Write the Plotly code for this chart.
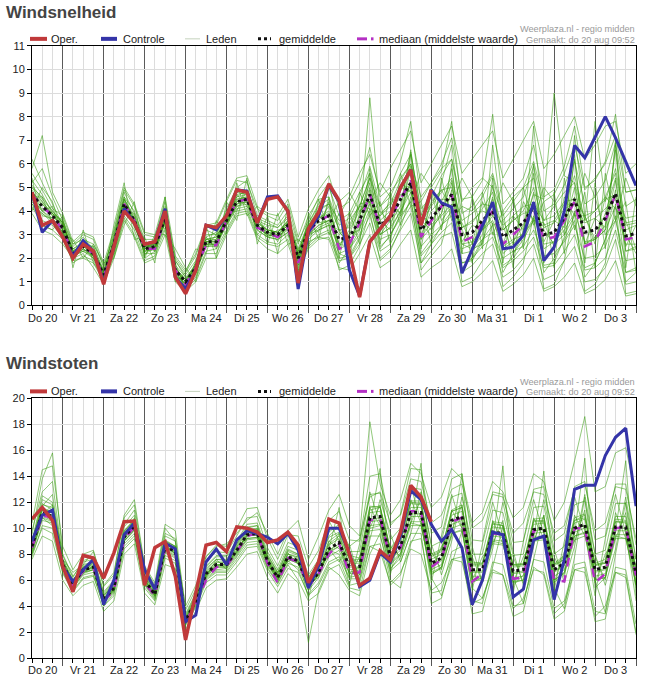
import pandas as pd
import plotly.graph_objects as go

# ---------------- data ----------------
times = pd.date_range("2020-08-20 06:00", periods=60, freq="6h")
day_labels = ["Do 20", "Vr 21", "Za 22", "Zo 23", "Ma 24", "Di 25", "Wo 26", "Do 27",
              "Vr 28", "Za 29", "Zo 30", "Ma 31", "Di 1", "Wo 2", "Do 3"]

snel_oper = [4.8,3.4,3.6,2.9,2.0,2.6,2.3,0.9,2.5,4.0, 3.5,2.6,2.7,4.0,1.2,0.5,1.5,3.4,3.3,3.8,
             4.9,4.8,3.5,4.5,4.6,4.0,0.95,3.25,3.95,5.15, 4.45,2.3,0.35,2.7,3.25,3.8,5.0,5.75,3.4,4.9] + [None]*20
snel_controle = [4.8,3.1,3.6,2.9,2.1,2.75,2.3,1.0,2.5,4.1, 3.5,2.6,2.7,4.1,1.2,0.7,1.5,3.4,3.2,3.8,
                 4.9,4.85,3.5,4.6,4.65,4.0,0.7,3.1,3.8,5.1, 4.4,1.5,0.4,2.7,3.25,3.8,5.0,5.75,3.4,4.9,
                 4.35,4.17,1.37,2.4,3.4,4.38,2.4,2.47,2.97,4.38, 1.9,2.47,4.0,6.78,6.26,7.13,8.0,7.1,6.07,5.08]
snel_gemiddelde = [4.7,4.2,3.8,3.3,2.2,2.5,2.2,1.3,2.6,4.3, 3.6,2.4,2.5,3.7,1.5,1.0,1.6,2.7,2.7,3.6,
                   4.4,4.5,3.4,3.1,3.0,3.4,2.0,3.2,3.6,3.8, 2.8,2.9,3.6,4.7,3.4,3.7,4.5,5.2,3.2,3.7,
                   4.2,4.7,3.0,3.1,3.6,4.0,2.9,3.2,3.5,4.2, 3.0,3.1,3.7,4.5,3.1,3.2,3.7,4.75,2.95,3.05]
snel_mediaan = [4.7,4.2,3.8,3.2,2.2,2.5,2.2,1.2,2.6,4.3, 3.6,2.4,2.4,3.7,1.5,0.9,1.6,2.55,2.55,3.6,
                4.4,4.5,3.3,3.1,2.9,3.3,1.8,3.1,3.6,3.8, 2.4,2.6,3.5,4.7,3.3,3.7,4.5,5.3,2.9,3.6,
                4.2,4.7,2.7,2.9,3.5,4.0,2.6,3.0,3.4,4.1, 2.8,2.9,3.6,4.4,2.5,2.7,3.6,4.7,2.8,2.9]
snel_leden = [
 [5.2,5.8,4.6,3.6,2.5,2.9,2.4,1.0,2.9,4.8,3.9,2.7,2.3, 4.2,1.8,0.6,1.9,3.2,3.0,4.1,5.0,5.3,3.8,3.6,3.4,4.0, 2.6,3.8,4.5,4.6,3.4,3.7,4.6,5.9,4.2,4.6,5.6,6.4,4.1, 4.6,5.5,6.2,3.9,4.2,4.8,5.6,4.0,4.6,5.0,6.1, 4.4,4.7,5.6,6.8,4.9,5.4,6.0,7.2,4.8,4.9],
 [4.3,3.6,3.4,2.9,1.8,2.1,1.9,1.1,2.2,3.8,3.2,2.0,2.3, 3.3,1.2,0.8,1.2,2.3,2.4,3.2,4.0,4.1,3.0,2.7,2.6,3.0, 1.6,2.6,3.0,3.2,2.2,2.4,3.0,4.1,2.8,3.0,3.7,4.4,2.5, 3.0,3.4,3.8,2.2,2.3,2.8,3.1,2.0,2.3,2.5,3.2, 2.1,2.2,2.7,3.4,2.0,2.1,2.5,3.6,1.9,2.0],
 [5.6,4.9,4.1,3.8,2.6,3.0,2.8,1.6,3.1,4.9,4.2,3.0,2.9, 4.4,2.0,1.4,2.1,3.3,3.4,4.4,5.3,5.2,4.1,3.8,3.6,4.3, 2.7,3.6,4.6,5.2,3.1,2.7,3.4,8.8,4.0,3.5,4.2,6.5,3.9, 3.4,3.9,5.8,2.6,2.4,3.0,5.1,2.2,2.6,3.1,5.6, 2.4,2.7,3.4,6.2,2.6,2.9,3.4,6.6,2.3,2.5],
 [3.9,3.2,3.0,2.6,2.0,2.2,1.6,0.9,2.0,3.6,2.9,1.8,2.0, 3.0,1.0,0.6,1.0,2.0,2.0,3.0,3.8,3.9,2.8,2.4,2.2,2.6, 1.4,2.4,2.8,2.9,1.9,2.0,2.6,3.5,2.0,2.4,3.2,3.9,1.8, 2.3,2.9,3.1,1.4,1.7,2.2,2.6,1.2,1.5,2.0,2.6, 1.1,1.3,1.9,2.5,1.0,1.1,1.6,2.8,0.9,1.0],
 [5.0,4.6,4.0,3.5,2.3,2.6,2.5,1.4,2.8,4.5,3.8,2.6,2.7, 3.9,1.6,1.1,1.8,2.9,3.1,3.9,4.7,4.8,3.6,3.4,3.3,3.7, 2.3,3.4,4.1,4.3,3.6,3.9,4.8,5.6,3.9,4.3,5.3,6.0,3.8, 5.0,5.7,7.8,4.2,4.0,4.6,5.5,3.6,4.1,4.6,5.9, 4.0,4.3,5.1,6.1,4.3,4.6,5.3,6.9,4.2,4.5],
 [4.5,4.0,3.6,3.1,2.1,2.3,2.0,1.2,2.4,4.0,3.4,2.2,2.2, 3.5,1.3,0.9,1.4,2.5,2.5,3.4,4.1,4.2,3.2,2.9,2.8,3.1, 1.8,2.9,3.3,3.5,2.4,2.6,3.3,4.3,3.0,3.3,4.0,4.8,2.8, 3.3,3.8,4.3,2.6,2.7,3.2,3.6,2.5,2.8,3.0,3.7, 2.6,2.7,3.2,3.9,2.7,2.8,3.2,4.2,2.6,2.6],
 [6.2,5.2,4.3,3.4,2.4,2.7,2.3,1.5,3.0,4.6,3.5,2.5,2.6, 3.9,1.7,1.2,1.7,2.8,2.9,3.7,4.6,4.9,3.3,3.2,3.1,3.6, 2.1,3.1,3.7,4.0,2.6,2.5,3.8,5.0,3.0,3.6,4.9,5.6,2.9, 3.5,4.4,5.3,2.4,2.6,3.5,4.5,2.4,2.7,3.4,4.7, 4.5,9.0,5.5,5.2,2.6,2.8,3.9,5.4,2.3,2.4],
 [4.1,3.9,3.5,3.0,2.1,2.4,2.0,1.2,2.3,4.1,3.4,2.3,2.4, 3.6,1.4,0.9,1.5,2.6,2.6,3.5,4.3,4.4,3.3,3.0,2.9,3.3, 1.9,3.0,3.4,3.6,2.5,3.2,4.0,4.4,3.1,3.9,4.7,4.9,3.0, 4.0,4.5,4.5,3.3,3.6,4.0,3.8,3.2,3.6,3.9,4.0, 3.3,3.5,4.1,4.3,3.5,3.7,4.1,4.5,3.4,3.5],
 [4.8,4.4,3.9,3.2,2.2,2.6,2.3,1.4,2.7,4.4,3.7,2.4,2.5, 3.8,1.5,1.0,1.6,2.7,2.8,3.7,4.5,4.6,3.5,3.2,3.1,3.5, 2.0,3.2,3.7,3.9,2.2,2.0,2.8,4.9,2.5,2.9,3.9,5.3,2.2, 2.8,3.3,4.9,1.8,1.9,2.7,4.1,1.7,2.0,2.6,4.4, 1.7,1.8,2.9,4.6,1.6,1.8,2.8,4.9,1.4,1.6],
 [4.6,4.3,3.9,3.4,2.3,2.5,2.2,1.3,2.6,4.2,3.7,2.5,2.5, 3.7,1.5,1.1,1.6,2.7,2.7,3.6,4.4,4.5,3.4,3.1,3.0,3.4, 2.1,3.3,3.5,3.6,3.0,3.4,4.3,4.4,3.8,4.2,5.1,5.0,3.7, 4.3,4.9,5.0,3.6,3.9,4.3,4.2,3.4,3.8,4.2,4.3, 3.6,3.8,4.4,4.5,3.8,4.0,4.5,4.7,3.7,3.8],
 [5.3,4.7,3.9,3.6,2.6,2.8,2.6,1.7,2.9,4.6,4.0,2.8,2.8, 4.1,1.9,1.3,1.9,3.0,3.0,4.0,4.8,4.7,3.7,3.5,3.3,3.8, 2.4,3.5,4.2,4.5,3.2,3.3,4.2,5.4,3.6,4.0,5.0,5.9,3.5, 4.2,4.8,5.4,3.3,3.5,4.1,4.8,3.2,3.6,4.0,5.0, 3.4,3.6,4.3,5.5,3.6,7.8,4.4,5.8,3.5,3.6],
 [4.2,3.4,3.2,2.8,1.9,2.0,1.8,1.0,2.1,3.7,3.0,1.9,2.1, 3.2,1.1,0.7,1.1,2.2,2.2,3.1,3.9,4.0,2.9,2.6,2.5,2.8, 1.5,2.5,2.9,3.1,2.0,2.1,2.9,3.8,2.3,2.6,3.5,4.2,2.1, 2.6,3.1,3.5,1.8,2.0,2.5,2.9,1.6,1.9,2.3,2.9, 1.6,1.7,2.3,3.0,1.5,1.6,2.0,3.2,1.4,1.5],
 [5.8,7.2,4.8,3.9,2.7,3.1,2.9,1.8,3.2,5.0,4.3,3.1,3.0, 4.6,2.1,1.5,2.2,3.4,3.5,4.5,5.4,5.5,4.2,3.9,3.8,4.5, 2.9,4.1,4.9,5.5,4.1,4.4,5.2,6.7,4.6,5.0,6.1,7.8,4.4, 5.2,6.0,7.1,4.5,4.6,5.3,8.1,4.3,4.8,5.4,6.8, 4.6,4.9,5.9,7.6,5.0,5.3,6.1,8.1,4.8,4.9],
 [4.4,3.8,3.7,3.2,2.0,2.4,2.1,1.1,2.5,4.1,3.5,2.3,2.4, 3.6,1.4,0.8,1.5,2.6,2.6,3.5,4.3,4.4,3.3,3.0,2.9,3.3, 1.7,2.8,3.2,3.4,1.5,1.7,2.5,4.0,1.9,2.3,3.3,4.6,1.5, 2.1,2.6,4.2,1.0,1.2,1.9,3.5,0.8,1.2,1.8,3.8, 0.7,0.9,1.9,4.0,0.6,0.9,1.8,4.3,0.5,0.6],
 [4.0,5.0,4.4,3.0,2.8,2.0,2.6,1.8,2.0,3.4,4.4,2.0,3.0, 3.0,2.4,1.6,1.0,3.4,2.0,4.4,3.6,5.4,2.6,3.8,2.2,4.2, 1.4,3.9,2.8,4.6,2.0,4.0,2.6,5.6,2.6,4.8,3.4,6.4,2.4, 4.8,3.2,6.0,2.2,4.6,2.4,5.4,1.8,4.6,2.4,6.0, 1.8,4.8,2.2,6.4,1.8,5.2,2.4,7.0,1.6,4.6],
 [5.4,3.4,3.2,3.8,1.6,3.2,1.8,1.2,3.4,5.2,2.8,2.9,1.8, 4.6,1.0,1.4,2.4,2.2,3.6,3.0,5.2,3.8,4.2,2.6,3.9,2.6, 2.8,2.4,4.5,3.0,3.9,1.8,4.8,3.8,4.4,2.6,5.6,4.2,4.4, 2.6,5.4,3.6,4.2,1.8,4.8,3.0,4.0,1.6,5.0,3.4, 4.4,1.6,5.4,3.2,4.8,1.6,5.6,3.6,4.4,1.4],
 [4.9,4.0,4.2,2.8,2.4,2.3,2.5,1.5,2.2,4.0,3.9,2.1,2.8, 3.4,1.9,1.2,1.3,2.9,2.4,3.9,4.0,4.9,3.0,3.4,2.7,3.6, 2.3,3.4,3.1,4.4,2.4,3.6,4.2,4.1,3.8,4.4,3.9,5.8,2.8, 4.4,4.9,4.0,3.5,2.6,4.4,3.4,3.6,2.6,4.4,3.6, 3.5,2.5,4.6,3.8,3.8,2.6,4.6,4.1,3.6,2.4],
 [4.6,4.6,3.5,3.6,2.0,2.7,2.0,1.3,2.8,4.5,3.3,2.6,2.3, 4.0,1.3,0.9,1.8,2.5,3.0,3.4,4.7,4.2,3.7,2.9,3.2,3.2, 1.9,2.9,4.0,3.4,3.2,2.4,3.9,5.2,3.0,3.3,5.0,4.8,3.6, 3.2,3.9,5.2,2.7,3.4,3.2,4.6,2.6,3.8,3.2,4.8, 2.7,3.6,3.3,5.0,2.6,3.7,3.3,5.3,2.5,3.4],
 [4.4,4.1,3.9,3.5,2.3,2.6,2.3,1.4,2.6,4.2,3.6,2.5,2.6, 3.8,1.6,1.0,1.7,2.8,2.8,3.7,4.5,4.6,3.5,3.2,3.1,3.5, 2.2,3.5,4.3,5.0,3.8,4.6,5.6,6.4,4.8,5.8,6.6,7.4,5.2, 6.0,6.8,7.6,5.6,6.2,6.8,7.4,5.4,6.2,7.0,7.8, 5.8,6.4,7.2,8.0,6.2,6.8,7.6,7.8,5.6,6.0],
 [4.5,4.0,3.7,3.1,2.1,2.4,2.1,1.2,2.5,4.2,3.5,2.3,2.4, 3.5,1.4,0.9,1.5,2.6,2.6,3.4,4.2,4.3,3.2,2.9,2.8,3.1, 1.7,2.7,2.9,2.8,1.6,1.5,2.2,3.0,1.6,1.9,2.6,3.2,1.2, 1.6,1.9,2.4,0.8,1.0,1.4,1.9,0.6,0.9,1.3,2.0, 0.6,0.8,1.2,1.8,0.5,0.7,1.1,1.9,0.4,0.5],
 [5.0,4.4,3.8,3.4,2.2,2.5,2.3,1.3,2.7,4.3,3.6,2.4,2.5, 3.7,1.5,1.0,1.6,2.7,2.7,3.6,4.4,4.5,3.4,3.1,3.0,3.4, 2.0,3.3,3.6,4.2,2.6,3.0,3.2,5.8,3.6,3.2,4.0,6.6,3.4, 3.0,5.2,6.8,3.2,2.4,2.6,6.8,3.4,2.2,3.0,7.6, 3.2,2.6,3.0,7.2,3.8,2.8,3.2,6.8,3.0,2.2],
 [4.8,4.3,3.8,3.3,2.2,2.5,2.2,1.3,2.6,4.3,3.6,2.4,2.5, 3.7,1.5,1.0,1.6,2.7,2.7,3.6,4.4,4.5,3.4,3.1,3.0,3.4, 2.0,3.0,3.4,3.6,4.4,4.8,4.0,4.4,5.2,4.6,3.8,4.4,5.6, 5.0,3.6,4.2,5.4,4.6,3.2,3.8,5.2,4.4,3.0,3.6, 5.0,4.4,3.0,3.8,5.6,4.6,3.0,3.6,5.4,4.2],
 [4.3,3.9,3.6,3.0,2.1,2.3,2.1,1.2,2.4,4.1,3.4,2.2,2.4, 3.6,1.3,0.8,1.4,2.5,2.6,3.5,4.2,4.4,3.3,3.0,2.9,3.2, 1.8,3.0,3.2,3.4,1.8,2.4,3.2,4.4,2.4,3.0,3.8,5.2,1.8, 2.6,3.4,4.0,1.6,2.0,2.8,3.4,1.4,2.2,2.8,3.6, 1.4,2.0,2.8,3.6,1.2,1.8,2.8,3.8,1.0,1.4],
 [5.1,4.5,4.0,3.5,2.4,2.6,2.3,1.4,2.7,4.5,3.7,2.5,2.6, 3.9,1.6,1.1,1.7,2.8,2.9,3.8,4.6,4.7,3.6,3.2,3.1,3.6, 2.2,3.4,4.0,4.3,3.2,3.0,4.2,5.4,4.2,4.8,5.4,6.0,4.6, 5.2,5.8,6.2,4.4,5.0,5.4,5.0,3.8,4.4,5.0,5.4, 3.6,4.2,4.8,5.2,3.6,4.0,4.6,5.6,3.2,3.4],
]

stoot_oper = [10.7,11.6,10.6,7.05,5.1,7.9,7.7,6.15,8.1,10.5, 10.55,5.6,8.5,8.97,6.3,1.4,5.0,8.7,8.9,8.2,
              10.1,10.0,9.7,8.9,9.1,9.7,8.7,5.8,7.4,10.7, 10.4,8.0,5.6,6.15,8.26,7.56,9.7,13.3,12.4,10.5] + [None]*20
stoot_controle = [9.0,11.0,11.4,7.0,5.9,6.8,7.6,4.1,6.0,9.5, 10.4,6.8,5.3,8.85,8.4,2.8,3.3,7.4,8.4,7.2,
                  9.1,9.8,9.6,9.3,8.8,9.6,8.3,5.4,7.1,10.0, 10.0,8.1,5.5,6.0,8.1,7.4,9.4,12.9,12.2,10.3,
                  9.0,9.9,8.5,4.1,6.0,9.7,9.5,4.7,5.3,9.1, 9.4,4.5,7.6,13.0,13.3,13.3,15.6,17.0,17.7,11.7]
stoot_gemiddelde = [8.6,11.2,10.9,7.2,5.7,6.8,7.0,4.5,5.4,9.3, 10.2,6.0,4.9,8.6,8.2,2.9,4.4,6.5,7.2,7.2,
                    8.3,9.5,9.6,7.5,6.2,7.8,7.5,5.6,6.6,8.4, 8.9,7.05,7.05,10.8,10.9,7.8,8.6,11.2,11.2,7.3,
                    7.7,10.6,10.9,6.8,6.8,9.7,9.6,6.7,6.8,9.9, 10.0,6.8,7.3,10.0,10.3,6.8,7.0,10.1,10.1,6.5]
stoot_mediaan = [8.5,11.0,10.8,7.1,5.6,6.7,7.0,4.4,5.2,9.2, 10.1,5.8,4.8,8.5,8.1,2.8,4.2,6.0,7.0,7.1,
                 8.2,9.4,9.6,7.3,5.8,7.7,7.4,5.5,6.5,8.0, 8.8,6.5,6.6,10.6,10.8,7.6,8.5,11.3,11.3,7.0,
                 7.6,10.5,10.8,5.9,6.5,9.6,9.5,6.1,6.2,9.8, 9.5,6.0,5.9,10.0,10.0,5.8,6.5,10.0,10.1,6.3]
stoot_leden = [
 [9.5,13.8,15.8,7.9,6.2,7.5,7.8,5.1,6.0,10.3,11.4,6.7,5.5, 9.6,9.2,3.4,5.0,7.4,8.2,8.1,9.4,10.8,10.9,8.5,7.1,8.9, 8.6,6.4,7.6,9.7,10.3,8.2,8.2,12.6,12.7,9.1,10.0,13.1,13.0, 8.6,9.0,12.4,12.7,8.0,8.0,11.4,11.2,7.9,8.0,11.6, 11.7,8.0,8.6,11.8,12.1,8.0,8.3,11.9,11.9,7.6],
 [7.8,10.2,10.0,6.5,5.1,6.1,6.3,4.0,4.8,8.4,9.2,5.4,4.4, 7.7,7.3,2.5,3.9,5.8,6.4,6.4,7.4,8.5,8.6,6.7,5.5,6.9, 6.6,4.9,5.8,7.4,7.8,6.1,6.1,9.4,9.4,6.7,7.4,9.6,9.6, 4.2,4.6,7.6,7.8,3.4,3.6,6.6,6.4,3.2,3.6,7.0, 6.4,3.0,3.6,6.8,7.0,2.8,3.0,6.6,6.4,2.0],
 [9.0,12.5,12.0,8.0,6.3,7.4,7.6,5.0,5.9,10.1,11.0,6.6,5.4, 9.4,9.0,3.3,4.9,7.1,7.9,7.9,9.0,10.3,10.4,8.2,6.8,8.6, 8.3,6.2,7.3,9.3,9.7,7.9,7.7,11.7,11.6,8.5,9.4,12.0,11.9, 8.0,8.4,11.3,11.6,7.4,7.3,10.4,10.2,7.2,7.2,10.5, 10.5,7.2,7.6,10.6,10.8,7.2,7.3,10.5,10.4,6.7],
 [8.2,10.6,10.4,6.8,5.4,6.4,6.6,4.2,5.1,8.8,9.6,5.7,4.6, 8.1,7.7,2.7,4.1,6.1,6.7,6.7,7.8,8.9,9.0,7.0,5.8,7.3, 7.0,5.2,6.2,7.8,8.3,6.5,6.6,10.2,10.3,7.3,8.1,10.5,10.5, 6.8,7.2,10.0,10.3,6.3,6.3,9.1,9.0,6.2,6.3,9.3, 9.4,6.3,6.8,9.4,9.7,6.3,6.5,9.5,9.5,6.0],
 [10.4,14.5,14.8,8.6,6.8,8.0,8.3,5.5,6.4,11.0,12.2,7.1,5.8, 10.3,9.8,3.7,5.3,7.8,8.7,8.6,10.0,11.5,11.6,9.2,7.6,9.5, 9.4,7.0,8.3,10.6,11.3,9.1,9.0,14.0,14.2,10.2,11.1,14.6,14.5, 9.6,10.1,13.8,14.2,9.1,9.0,12.8,12.6,8.9,9.0,13.0, 13.2,9.0,9.6,13.2,13.6,9.1,9.4,13.4,13.4,8.7],
 [8.0,10.8,10.5,7.0,5.5,6.6,6.8,4.4,5.3,9.0,9.9,5.8,4.8, 8.3,7.9,2.8,4.3,6.3,7.0,7.0,8.0,9.2,9.3,7.3,6.0,7.6, 7.3,5.4,6.4,8.1,8.6,6.8,6.9,10.5,10.6,7.6,8.3,10.9,10.9, 7.1,7.5,10.3,10.6,6.6,6.6,9.4,9.3,6.5,6.6,9.6, 9.7,6.6,7.1,9.7,10.0,6.6,6.8,9.8,9.8,6.3],
 [8.8,11.5,11.2,7.4,5.9,7.0,7.2,4.7,5.6,9.6,10.5,6.2,5.1, 8.9,8.5,3.0,4.6,6.7,7.4,7.4,8.6,9.8,9.9,7.7,6.4,8.0, 7.8,5.8,6.9,8.7,9.2,7.3,7.3,11.2,11.3,8.1,8.9,11.6,11.6, 7.6,8.0,11.0,11.3,7.1,7.1,10.1,10.0,7.0,7.1,10.3, 10.4,7.1,7.6,10.4,10.7,7.1,7.3,10.5,10.5,6.8],
 [7.6,9.4,9.0,6.0,4.8,5.6,5.9,3.6,4.4,8.0,8.8,5.0,4.1, 7.2,6.9,2.2,3.6,5.4,6.0,6.1,7.0,8.0,8.2,6.2,5.0,6.5, 5.8,1.2,5.2,7.0,6.4,5.2,4.8,8.0,9.6,6.0,5.4,8.8,10.4, 6.2,4.8,7.2,9.8,5.4,4.6,7.0,10.2,6.2,4.2,7.5, 11.0,5.4,3.8,7.8,12.4,6.0,3.5,8.0,12.0,5.6],
 [9.8,12.8,13.6,7.6,6.6,7.2,8.2,5.6,6.6,10.8,11.8,7.0,5.6, 10.0,9.0,4.0,5.6,7.8,8.6,8.8,9.6,10.6,11.2,9.6,8.0,9.8, 10.6,7.6,9.4,11.4,12.6,10.2,9.4,18.2,13.4,11.0,12.2,15.0,14.2, 11.6,12.4,14.6,13.8,10.4,11.2,13.6,12.8,10.8,11.6,14.2, 13.6,10.6,12.0,15.2,18.6,12.8,13.2,15.8,16.2,12.4],
 [8.0,10.0,9.6,6.6,5.2,6.2,6.4,4.0,5.0,8.6,9.4,5.6,4.5, 7.9,7.5,2.6,4.0,6.0,6.6,6.6,7.6,8.7,8.8,6.9,5.7,7.2, 6.0,4.4,5.0,6.8,7.2,5.4,5.2,8.6,8.8,5.6,6.4,9.0,9.2, 5.0,5.2,8.2,8.6,4.4,4.2,7.4,7.2,4.0,4.2,7.6, 7.4,3.8,4.4,7.2,7.4,3.6,3.4,7.0,6.8,2.6],
 [8.4,11.9,11.4,7.3,5.6,6.6,7.1,4.4,5.2,9.4,10.6,6.1,4.8, 8.8,8.0,3.0,4.3,6.6,7.0,7.5,8.1,9.7,9.4,7.8,6.0,8.1, 7.2,5.8,6.2,9.0,8.4,7.8,6.4,11.6,10.2,8.6,7.8,12.2,10.4, 8.2,6.8,11.4,10.0,7.8,5.8,10.6,8.8,7.8,5.8,10.8, 9.2,7.8,6.2,11.0,9.4,7.8,6.0,11.2,9.2,7.6],
 [9.2,11.0,11.8,6.9,6.0,6.5,7.4,4.2,5.8,9.0,10.8,5.6,5.2, 8.2,8.6,2.6,4.8,6.2,7.6,6.8,8.6,9.2,10.0,7.0,6.6,7.4, 7.9,5.2,7.0,7.8,9.6,6.4,7.8,10.0,11.8,7.0,9.4,10.4,12.2, 6.6,8.6,9.8,11.8,6.0,7.8,8.8,10.6,5.8,7.8,9.0, 11.0,5.8,8.2,9.0,11.4,5.8,8.0,9.2,11.2,5.4],
 [8.3,11.4,10.7,7.1,5.8,6.9,6.9,4.6,5.3,9.2,10.1,6.0,4.9, 8.5,8.1,2.9,4.4,6.4,7.1,7.1,8.2,9.4,9.5,7.4,6.2,7.7, 7.4,5.5,6.5,8.3,8.8,7.0,7.0,10.7,10.8,7.7,8.5,11.1,11.1, 7.2,7.6,10.5,10.8,6.7,6.7,9.6,9.5,6.6,6.7,9.8, 9.9,6.7,7.2,9.9,10.2,6.7,6.9,10.0,10.0,6.4],
 [8.7,11.7,12.6,7.5,5.8,7.0,7.3,4.8,5.7,9.8,10.7,6.3,5.2, 9.1,8.6,3.1,4.6,6.9,7.6,7.6,8.8,10.1,10.2,7.9,6.6,8.3, 8.0,6.0,7.1,9.0,9.6,7.6,7.6,11.6,11.7,8.4,9.3,12.1,12.1, 7.9,8.3,11.4,11.8,7.3,7.3,10.5,10.4,7.2,7.3,10.7, 10.8,7.3,7.9,10.8,11.1,7.3,7.6,10.9,10.9,7.0],
 [8.8,12.2,11.8,7.6,6.0,7.2,7.4,4.9,5.8,9.8,10.6,6.4,5.3, 9.0,8.6,3.2,4.8,7.0,7.8,7.8,8.8,10.0,10.2,8.0,6.6,8.4, 8.0,6.2,7.4,9.4,10.2,8.6,9.2,12.4,12.8,10.4,11.0,13.8,13.6, 10.4,11.0,13.0,13.4,10.0,10.6,12.6,12.4,9.6,10.4,12.8, 12.6,9.6,10.2,13.0,13.4,9.8,10.4,13.2,13.0,9.2],
 [8.4,10.8,10.2,6.9,5.4,6.5,6.8,4.3,5.2,9.0,9.8,5.7,4.7, 8.2,7.8,2.7,4.2,6.2,6.8,6.9,7.9,9.1,9.2,7.2,5.9,7.5, 6.8,4.8,5.6,7.2,7.6,5.6,5.8,8.6,8.2,5.8,6.6,8.4,8.0, 5.2,5.8,7.6,7.4,4.2,4.6,6.8,6.4,3.8,4.6,6.8, 6.6,3.4,4.2,6.8,6.6,3.2,4.0,6.6,6.2,1.8],
 [8.6,11.0,10.9,7.2,5.7,6.8,7.0,4.5,5.4,9.3,10.2,6.0,4.9, 8.6,8.2,2.9,4.4,6.5,7.2,7.2,8.3,9.5,9.6,7.5,6.2,7.8, 7.5,5.6,6.6,8.4,11.6,6.2,7.2,10.2,14.6,6.8,8.0,10.4,15.0, 6.4,7.0,9.4,14.2,5.8,6.2,9.0,14.8,5.6,6.4,9.2, 14.4,5.8,6.6,9.6,15.4,5.4,6.2,9.8,15.2,4.8],
 [8.6,11.4,11.0,7.2,5.6,6.8,7.0,4.5,5.4,9.3,10.2,6.0,4.9, 8.6,8.2,2.9,4.4,6.5,7.2,7.2,8.3,9.5,9.6,7.5,6.2,7.8, 7.5,5.6,6.6,8.4,7.4,8.8,6.0,9.2,12.2,9.6,7.4,9.6,12.8, 8.8,6.4,9.0,12.4,8.6,5.8,8.4,12.0,8.2,5.6,8.6, 12.2,8.4,5.8,8.6,12.6,8.0,5.6,8.4,12.4,7.6],
 [8.9,11.6,11.2,7.4,5.9,7.0,7.1,4.6,5.5,9.5,10.4,6.1,5.0, 8.8,8.4,3.0,4.5,6.6,7.4,7.3,8.5,9.7,9.8,7.6,6.3,8.0, 7.7,4.6,7.8,10.6,9.0,5.6,8.8,12.8,10.4,6.4,9.8,13.2,10.6, 5.8,9.4,12.6,10.0,5.2,8.8,12.0,9.4,5.0,9.0,12.2, 9.6,5.2,9.0,12.4,9.8,4.8,9.2,12.6,9.6,4.4],
 [8.1,10.9,10.6,7.0,5.5,6.6,6.8,4.4,5.2,9.0,9.9,5.8,4.8, 8.4,8.0,2.8,4.3,6.3,7.0,7.0,8.1,9.2,9.3,7.3,6.0,7.6, 7.3,5.4,6.4,8.2,8.6,6.6,6.8,10.0,10.2,7.2,8.0,10.4,10.2, 6.6,7.0,9.6,9.8,6.0,6.2,9.0,8.8,5.8,6.0,9.2, 9.2,6.0,6.6,9.4,9.6,6.0,6.2,9.4,9.2,5.6],
 [9.0,11.8,11.6,7.6,6.0,7.1,7.4,4.8,5.7,9.7,10.6,6.3,5.1, 9.0,8.6,3.1,4.6,6.8,7.6,7.5,8.7,9.9,10.0,7.8,6.5,8.2, 7.9,5.9,6.9,8.8,9.4,7.6,7.4,11.4,11.6,8.3,9.1,11.9,11.8, 7.8,8.2,11.3,11.6,7.2,7.2,10.3,10.2,7.1,7.2,10.6, 10.6,7.2,7.8,10.6,11.0,7.2,7.4,10.7,10.6,6.9],
 [8.5,11.1,10.8,7.1,5.6,6.7,6.9,4.4,5.3,9.2,10.1,5.9,4.8, 8.5,8.1,2.8,4.3,6.4,7.1,7.1,8.2,9.4,9.5,7.4,6.1,7.7, 7.4,5.5,6.5,8.3,8.0,6.2,6.4,9.8,9.9,6.9,7.7,10.2,10.2, 6.5,6.9,9.6,9.9,6.0,6.0,8.8,8.7,5.9,6.0,9.0, 9.1,6.0,6.5,9.1,9.4,6.0,6.2,9.2,9.2,5.7],
]

for series in snel_leden + stoot_leden + [snel_oper, snel_controle, snel_gemiddelde, snel_mediaan,
                                          stoot_oper, stoot_controle, stoot_gemiddelde, stoot_mediaan]:
    assert len(series) == len(times), len(series)

W, H = 653, 693
FONT = "Liberation Sans, Arial, sans-serif"
C_OPER = "#c0393a"
C_CTRL = "#3434a8"
C_LEDEN = "rgba(55,155,15,0.55)"
C_MEAN = "#111111"
C_MED = "#b430c4"

# vertical calibration of the photographed page (measured: shown = 0.984 * y + 5.6)
V_SCALE, V_OFF = 0.984, 5.6

def fx(p):
    return p / W

def fy(p):
    return 1 - ((p - V_OFF) / V_SCALE) / H

panels = [
    dict(title="Windsnelheid", title_y=12, top=45.5, bot=305.5, ymax=11, dtick=1, xa="x", ya="y",
         leden=snel_leden, oper=snel_oper, ctrl=snel_controle, mean=snel_gemiddelde, med=snel_mediaan, dy=0),
    dict(title="Windstoten", title_y=363.5, top=398.5, bot=658.5, ymax=20, dtick=2, xa="x2", ya="y2",
         leden=stoot_leden, oper=stoot_oper, ctrl=stoot_controle, mean=stoot_gemiddelde, med=stoot_mediaan, dy=353),
]

fig = go.Figure()
shapes = []
annotations = []
layout_axes = {}

for k, p in enumerate(panels):
    common = dict(xaxis=p["xa"], yaxis=p["ya"], mode="lines", hoverinfo="skip", showlegend=False)
    for m in p["leden"]:
        fig.add_trace(go.Scatter(x=times, y=m, line=dict(color=C_LEDEN, width=1), **common))
    fig.add_trace(go.Scatter(x=times, y=p["med"], line=dict(color=C_MED, width=2.5, dash="dash"), **common))
    fig.add_trace(go.Scatter(x=times, y=p["mean"], line=dict(color=C_MEAN, width=3, dash="dot"), **common))
    fig.add_trace(go.Scatter(x=times, y=p["ctrl"], line=dict(color=C_CTRL, width=3), **common))
    fig.add_trace(go.Scatter(x=times, y=p["oper"], line=dict(color=C_OPER, width=3.5), **common))

    xname = "xaxis" if k == 0 else "xaxis2"
    yname = "yaxis" if k == 0 else "yaxis2"
    layout_axes[xname] = dict(
        domain=[fx(32), fx(636)], anchor=p["ya"], type="date",
        range=[times[0], times[-1]],
        tickmode="linear", tick0="2020-08-20 00:00", dtick=86400000,
        ticks="outside", ticklen=7, tickcolor="#555", tickwidth=1,
        showticklabels=False,
        showgrid=True, gridcolor="#5a5a5a", gridwidth=1,
        minor=dict(tick0="2020-08-20 00:00", dtick=21600000, ticks="outside", ticklen=4,
                   tickcolor="#000", showgrid=True, gridcolor="#dcdcdc", gridwidth=1),
        showline=True, linecolor="#000", linewidth=1, mirror=True, zeroline=False,
    )
    layout_axes[yname] = dict(
        domain=[fy(p["bot"]), fy(p["top"])], anchor=p["xa"],
        range=[0, p["ymax"]], tick0=0, dtick=p["dtick"],
        ticks="outside", ticklen=4, tickcolor="#000",
        showgrid=True, gridcolor="#dcdcdc", gridwidth=1,
        showline=True, linecolor="#000", linewidth=1, mirror=True, zeroline=False,
        tickfont=dict(size=11, color="#222", family=FONT),
    )

    noons = [t for t in times if t.hour == 12]
    for t, lab in zip(noons, day_labels):
        annotations.append(dict(x=t, y=0, xref=p["xa"], yref=p["ya"] + " domain", text=lab,
                                showarrow=False, xanchor="center", yanchor="middle", yshift=-12.2,
                                font=dict(size=11, color="#222", family=FONT)))

    dy = p["dy"]
    annotations.append(dict(x=fx(4), y=fy(p["title_y"]), xref="paper", yref="paper",
                            text="<b>%s</b>" % p["title"], showarrow=False,
                            xanchor="left", yanchor="middle",
                            font=dict(size=17, color="#444", family=FONT)))
    annotations.append(dict(x=fx(637), y=fy(29 + dy), xref="paper", yref="paper",
                            text="Weerplaza.nl - regio midden", showarrow=False,
                            xanchor="right", yanchor="middle",
                            font=dict(size=9.2, color="#9a9a9a", family=FONT)))
    annotations.append(dict(x=fx(637), y=fy(39.5 + dy), xref="paper", yref="paper",
                            text="Gemaakt: do 20 aug 09:52", showarrow=False,
                            xanchor="right", yanchor="middle",
                            font=dict(size=9.2, color="#9a9a9a", family=FONT)))
    ly = 38.5 + dy
    legend_items = [
        (30, 47, C_OPER, 4, "solid", 49, "Oper."),
        (101, 117, C_CTRL, 4, "solid", 121, "Controle"),
        (185, 200, "#c4d2bc", 1, "solid", 204, "Leden"),
        (258, 271, C_MEAN, 3, "dot", 277, "gemiddelde"),
        (357, 367, C_MED, 3, "solid", 377, "mediaan (middelste waarde)"),
    ]
    for x0, x1, col, w, dash, tx, txt in legend_items:
        shapes.append(dict(type="line", xref="paper", yref="paper", x0=fx(x0), x1=fx(x1),
                           y0=fy(ly), y1=fy(ly), line=dict(color=col, width=w, dash=dash)))
        annotations.append(dict(x=fx(tx), y=fy(ly), xref="paper", yref="paper", text=txt,
                                showarrow=False, xanchor="left", yanchor="middle",
                                font=dict(size=11, color="#222", family=FONT)))
    shapes.append(dict(type="line", xref="paper", yref="paper", x0=fx(371), x1=fx(373.5),
                       y0=fy(ly), y1=fy(ly), line=dict(color=C_MED, width=3)))

fig.update_layout(
    width=W, height=H,
    margin=dict(l=0, r=0, t=0, b=0),
    paper_bgcolor="white", plot_bgcolor="white",
    font=dict(family=FONT, size=11, color="#222"),
    shapes=shapes, annotations=annotations,
    **layout_axes,
)

fig.write_html(
    "out.html", config={"displayModeBar": False},
    post_script=("var gd=document.getElementById('{plot_id}');"
                 "gd.style.position='absolute';gd.style.left='0px';gd.style.top='0px';"
                 "document.body.style.margin='0';document.body.style.overflow='hidden';"),
)
